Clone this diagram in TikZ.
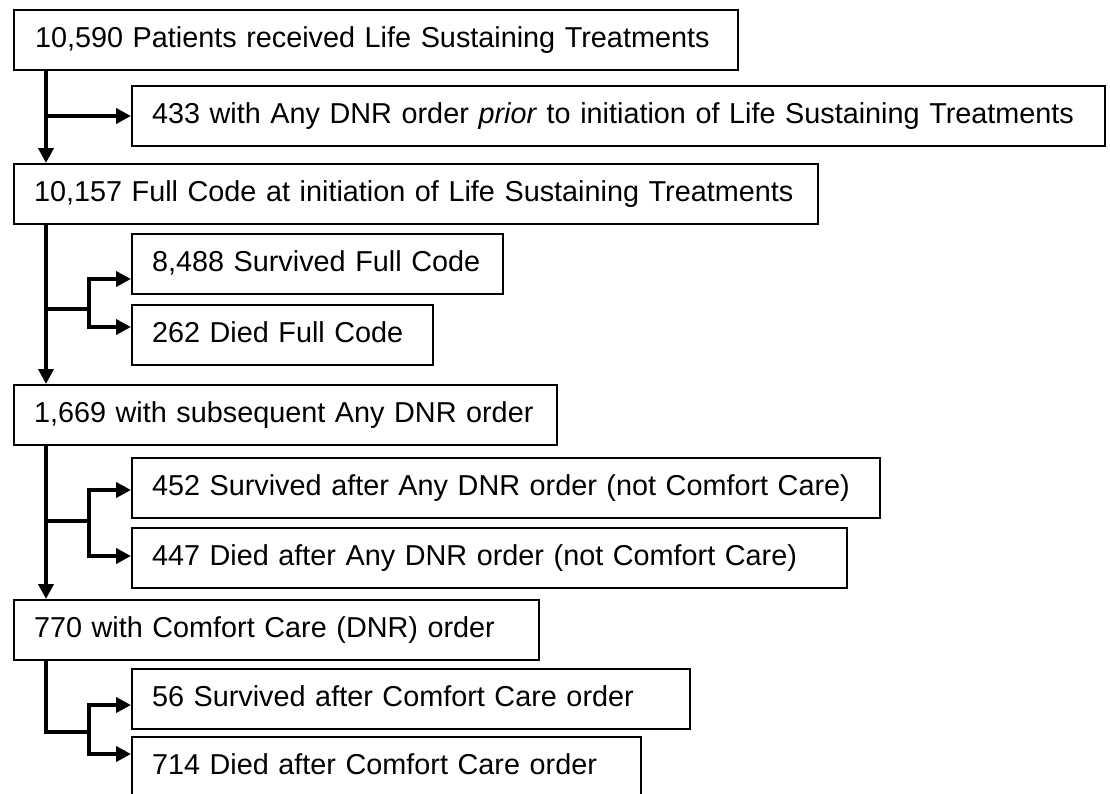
\documentclass[tikz,border=0pt]{standalone}
\usepackage{fontspec}
\setmainfont{Liberation Sans}
\usetikzlibrary{arrows.meta}
\newcommand{\stagefont}{\fontsize{28.8}{34}\selectfont}
\tikzset{
  stage/.style={draw, line width=2pt, minimum height=60pt, text width=#1,
    inner xsep=0pt, inner ysep=0pt, text height=21pt, text depth=6pt,
    align=left, anchor=north west, font=\stagefont},
  flow/.style={line width=4pt, -{Triangle[length=15pt,width=15pt]}},
  link/.style={line width=4pt}
}
\begin{document}
\begin{tikzpicture}[x=1pt,y=-1pt]
    \useasboundingbox (0,0) rectangle (1110,793);
    % boxes
    \node[stage=724pt] (lst) at (13,9) {\hspace*{21pt}10,590 Patients received Life Sustaining Treatments};
    \node[stage=973pt] (prior) at (131,85) {\hspace*{20pt}433 with Any DNR order \textit{prior} to initiation of Life Sustaining Treatments};
    \node[stage=804pt] (fullcode) at (13,163) {\hspace*{20pt}10,157 Full Code at initiation of Life Sustaining Treatments};
    \node[stage=371pt] (survfc) at (131,233) {\hspace*{20pt}8,488 Survived Full Code};
    \node[stage=301pt] (diedfc) at (131,304) {\hspace*{20pt}262 Died Full Code};
    \node[stage=543pt] (anydnr) at (13,384) {\hspace*{20pt}1,669 with subsequent Any DNR order};
    \node[stage=748pt] (survdnr) at (131,457) {\hspace*{20pt}452 Survived after Any DNR order (not Comfort Care)};
    \node[stage=715pt] (dieddnr) at (131,527) {\hspace*{20pt}447 Died after Any DNR order (not Comfort Care)};
    \node[stage=525pt] (comfort) at (13,599) {\hspace*{20pt}770 with Comfort Care (DNR) order};
    \node[stage=558pt] (survcc) at (131,668) {\hspace*{20pt}56 Survived after Comfort Care order};
    \node[stage=509pt] (diedcc) at (131,736) {\hspace*{20pt}714 Died after Comfort Care order};

    \coordinate (spine) at (46,0);
    \coordinate (fork1) at (89,309);
    \coordinate (fork2) at (89,521);
    \coordinate (fork3) at (89,732);

    % connectors
    \draw[flow] (lst.south -| spine) -- (fullcode.north -| spine);
    \draw[flow] (prior.west -| spine) -- (prior.west);
    \draw[flow] (fullcode.south -| spine) -- (anydnr.north -| spine);
    \draw[link] (spine |- fork1) -- (fork1);
    \draw[flow] (fork1) |- ([yshift=-15pt]survfc.west);
    \draw[flow] (fork1) |- ([yshift=8pt]diedfc.west);
    \draw[flow] (anydnr.south -| spine) -- (comfort.north -| spine);
    \draw[link] (spine |- fork2) -- (fork2);
    \draw[flow] (fork2) |- ([yshift=-2pt]survdnr.west);
    \draw[flow] (fork2) |- ([yshift=2pt]dieddnr.west);
    \draw[link] (comfort.south -| spine) |- (fork3);
    \draw[flow] (fork3) |- ([yshift=-6pt]survcc.west);
    \draw[flow] (fork3) |- ([yshift=13pt]diedcc.west);
\end{tikzpicture}
\end{document}
